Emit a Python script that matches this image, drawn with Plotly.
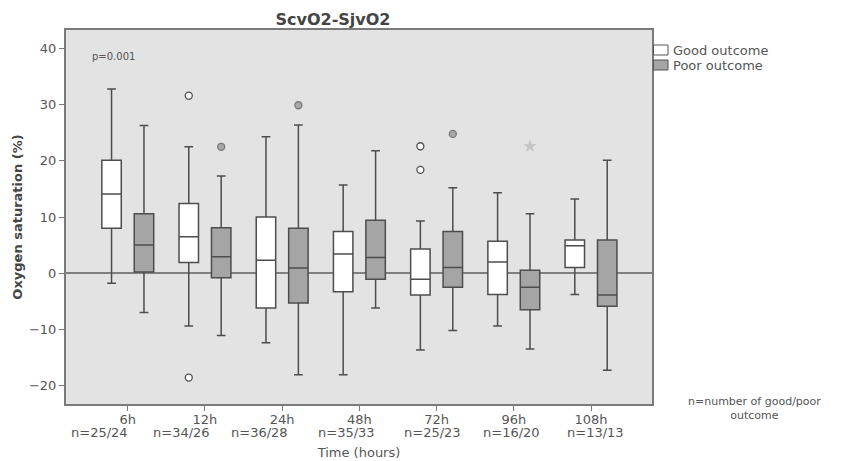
import plotly.graph_objects as go

categories = ["6h", "12h", "24h", "48h", "72h", "96h", "108h"]
n_labels = ["n=25/24", "n=34/26", "n=36/28", "n=35/33", "n=25/23", "n=16/20", "n=13/13"]

good_lower = [-1.8, -9.4, -12.4, -18.1, -13.7, -9.4, -3.8]
good_q1 = [8.0, 1.9, -6.2, -3.3, -3.9, -3.8, 1.0]
good_median = [14.1, 6.5, 2.3, 3.4, -1.1, 2.0, 4.9]
good_q3 = [20.1, 12.4, 10.0, 7.4, 4.3, 5.7, 5.9]
good_upper = [32.8, 22.5, 24.3, 15.7, 9.3, 14.3, 13.2]

poor_lower = [-7.0, -11.1, -18.1, -6.2, -10.2, -13.5, -17.3]
poor_q1 = [0.2, -0.8, -5.3, -1.1, -2.5, -6.5, -5.9]
poor_median = [5.0, 2.9, 0.9, 2.8, 1.0, -2.5, -3.9]
poor_q3 = [10.6, 8.1, 8.0, 9.4, 7.4, 0.5, 5.9]
poor_upper = [26.3, 17.3, 26.4, 21.8, 15.2, 10.6, 20.1]

good_out_x = ["12h", "12h", "72h", "72h"]
good_out_y = [31.6, -18.6, 22.6, 18.4]
poor_out_x = ["12h", "24h", "72h", "96h"]
poor_out_y = [22.5, 29.9, 24.8, 22.6]
poor_out_kind = ["circle", "circle", "circle", "star"]

legend_names = ["Good outcome", "Poor outcome"]
legend_fills = ["white", "#a5a5a5"]

line_col = "#4d4d4d"
text_col = "#555555"
W, H = 843, 461
ML, MR, MT, MB = 66, 191, 30, 57
PW, PH = W - ML - MR, H - MT - MB

fig = go.Figure()
fig.add_trace(go.Box(
    name=legend_names[0], x=categories, q1=good_q1, median=good_median, q3=good_q3,
    lowerfence=good_lower, upperfence=good_upper, offsetgroup="good",
    fillcolor=legend_fills[0], line=dict(color=line_col, width=1.5), whiskerwidth=0.45,
    boxpoints=False, hoverinfo="y", showlegend=False))
fig.add_trace(go.Box(
    name=legend_names[1], x=categories, q1=poor_q1, median=poor_median, q3=poor_q3,
    lowerfence=poor_lower, upperfence=poor_upper, offsetgroup="poor",
    fillcolor=legend_fills[1], line=dict(color=line_col, width=1.5), whiskerwidth=0.45,
    boxpoints=False, hoverinfo="y", showlegend=False))
fig.add_trace(go.Scatter(
    x=good_out_x, y=good_out_y, mode="markers", offsetgroup="good", showlegend=False,
    marker=dict(symbol="circle", size=7, color="white", line=dict(color=line_col, width=1.3))))
fig.add_trace(go.Scatter(
    x=poor_out_x, y=poor_out_y, mode="markers", offsetgroup="poor", showlegend=False,
    marker=dict(symbol=poor_out_kind, size=[7, 7, 7, 9],
                color=["#909090", "#909090", "#909090", "#b8b8b8"],
                line=dict(color=[line_col, line_col, line_col, "#b8b8b8"], width=[1.3, 1.3, 1.3, 0.5]))))

fig.update_layout(
    width=W, height=H,
    margin=dict(l=ML, r=MR, t=MT, b=MB, autoexpand=False),
    paper_bgcolor="white", plot_bgcolor="#e3e3e3",
    font=dict(family="DejaVu Sans", color=text_col, size=12),
    boxmode="group", boxgap=0.16, boxgroupgap=0.4,
    scattermode="group", scattergap=0.16,
    title=dict(text="<b>ScvO2-SjvO2</b>", x=333/W, xanchor="center", y=1 - 19/H, yanchor="middle",
               font=dict(size=16, color="#444444")),
    showlegend=False,
)
fig.update_xaxes(
    type="category", categoryorder="array", categoryarray=categories,
    tickmode="array", tickvals=categories, ticktext=categories,
    range=[-0.8, 6.79], showline=True, mirror=True, linecolor="#7a7a7a", linewidth=2,
    ticks="outside", ticklen=5, tickcolor="#7a7a7a", showgrid=False, automargin=False,
    ticklabelstandoff=-3,
    tickfont=dict(size=13, color=text_col),
    title=dict(text="Time (hours)", font=dict(size=13, color=text_col), standoff=22),
)
fig.update_yaxes(
    range=[-23.3, 43.3], tickvals=[-20, -10, 0, 10, 20, 30, 40],
    showline=True, mirror=True, linecolor="#7a7a7a", linewidth=2,
    ticks="outside", ticklen=5, tickcolor="#7a7a7a", showgrid=False, automargin=False,
    zeroline=True, zerolinecolor="#808080", zerolinewidth=1.5,
    tickfont=dict(size=13, color=text_col),
    title=dict(text="<b>Oxygen saturation (%)</b>", font=dict(size=13, color="#444444"), standoff=3),
)

# n labels under category ticks
n_shift = [-28, -23, -23, -13, -4, -2, 4]
for c, n, s in zip(categories, n_labels, n_shift):
    fig.add_annotation(text=n, xref="x", yref="paper", x=c, y=-(432 - MT - PH) / PH,
                       xshift=s, xanchor="center", yanchor="middle", showarrow=False,
                       font=dict(size=13, color=text_col))

fig.add_annotation(text="p=0.001", xref="paper", yref="paper", x=(90 - ML) / PW, y=1 - (57 - MT) / PH,
                   xanchor="left", yanchor="middle", showarrow=False,
                   font=dict(size=10, color=text_col))

# note on the right
fig.add_annotation(text="n=number of good/poor<br>outcome", xref="paper", yref="paper",
                   x=(754 - ML) / PW, y=1 - (408 - MT) / PH, xanchor="center", yanchor="middle",
                   align="center", showarrow=False, font=dict(size=11, color=text_col))

# legend drawn as keys beside the plot
for i, (name, fill) in enumerate(zip(legend_names, legend_fills)):
    yc = 50 + 15 * i
    fig.add_shape(type="rect", xref="paper", yref="paper",
                  x0=(653.5 - ML) / PW, x1=(668 - ML) / PW,
                  y0=1 - (yc - 5 - MT) / PH, y1=1 - (yc + 5 - MT) / PH,
                  fillcolor=fill, line=dict(color="#555555", width=1))
    fig.add_annotation(text=name, xref="paper", yref="paper", x=(671 - ML) / PW, y=1 - (yc - MT) / PH,
                       xanchor="left", yanchor="middle", showarrow=False,
                       font=dict(size=13, color=text_col))

fig.write_html("out.html", config={"displayModeBar": False},
               post_script="document.body.style.margin='0';")
